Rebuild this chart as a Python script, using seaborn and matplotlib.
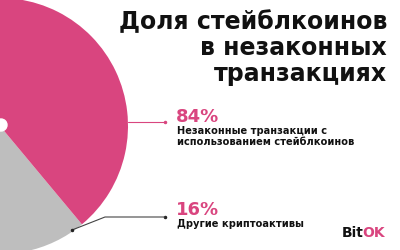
import matplotlib
matplotlib.use("Agg")
import matplotlib.pyplot as plt
import seaborn as sns

sns.set_theme(style="white")
plt.rcParams['font.family'] = ['DejaVu Sans']

categories = ["Другие криптоактивы", "Незаконные транзакции с\nиспользованием стейблкоинов"]
shares = [16, 84]
pct_labels = ["16%", "84%"]
title_lines = ["Доля стейблкоинов", "в незаконных", "транзакциях"]

PINK = "#D9457F"
GRAY = "#BEBEBE"

fig = plt.figure(figsize=(4, 2.5), dpi=100)
ax = fig.add_axes([0, 0, 1, 1])

cx, cy, r = 0, 124, 128
ax.pie(shares, colors=[GRAY, PINK], startangle=-107.8, counterclock=True,
       center=(cx, cy), radius=r, frame=True,
       wedgeprops=dict(linewidth=0))
ax.set_xlim(0, 400)
ax.set_ylim(0, 250)
ax.set_aspect("equal")
ax.axis("off")
ax.add_patch(plt.Circle((cx + 1, cy + 1), 6, color="white", zorder=5))

# leader lines
ax.plot([128, 165], [250 - 122, 250 - 122], color=PINK, lw=0.8, zorder=4)
ax.plot([165], [250 - 122], marker="o", ms=1.5, color=PINK)
ax.plot([72, 105, 165], [250 - 230, 250 - 217, 250 - 217], color="#444444", lw=0.8, zorder=4)
ax.plot([165], [250 - 217], marker="o", ms=1.5, color="#222222")
ax.plot([72], [250 - 230], marker="o", ms=1.5, color="#222222", zorder=6)

# labels
ax.text(176, 250 - 122, pct_labels[1], color=PINK, fontsize=13, fontweight="bold", va="baseline")
for i, line in enumerate(categories[1].split("\n")):
    ax.text(177, 250 - (134 + 11 * i), line, color="#111111", fontsize=7.1,
            fontweight="bold", va="baseline")
ax.text(176, 250 - 215, pct_labels[0], color=PINK, fontsize=13, fontweight="bold", va="baseline")
ax.text(177, 250 - 227, categories[0], color="#111111", fontsize=7.1, fontweight="bold", va="baseline")

# title
for line, base in zip(title_lines, [29, 55, 81]):
    ax.text(387, 250 - base, line, ha="right", va="baseline", fontsize=17,
            fontweight="bold", color="#111111")

# logo
ax.text(342, 250 - 237, "Bit", fontsize=10, fontweight="bold", color="#111111", va="baseline")
ax.text(362, 250 - 237, "OK", fontsize=10, fontweight="bold", color=PINK, va="baseline")

fig.savefig("out.png", dpi=100)
